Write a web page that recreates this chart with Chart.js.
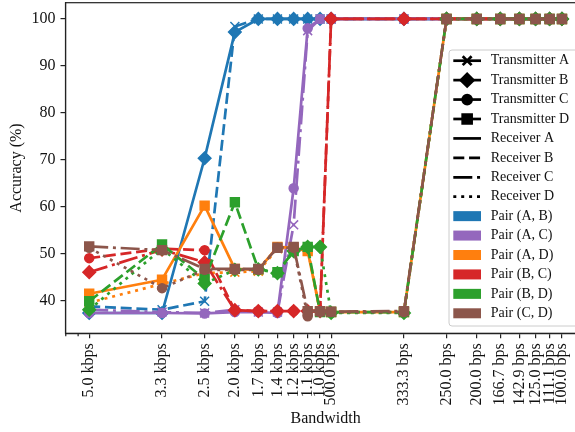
<!DOCTYPE html>
<html>
<head>
<meta charset="utf-8">
<script src="https://cdn.jsdelivr.net/npm/chart.js@4.4.1/dist/chart.umd.min.js"></script>
<style>
  html, body { margin: 0; padding: 0; background: #fff; overflow: hidden; }
  #wrap { width: 575px; height: 432px; overflow: hidden; }
</style>
</head>
<body>
<div id="wrap"><canvas id="myChart" width="590" height="432"></canvas></div>
<script>
// bandwidth labels, placed on a log axis (steps 1..9, 10..90)
var bandwidthLabels = ['5.0 kbps', '3.3 kbps', '2.5 kbps', '2.0 kbps', '1.7 kbps', '1.4 kbps',
    '1.2 kbps', '1.1 kbps', '1.0 kbps', '500.0 bps', '333.3 bps', '250.0 bps', '200.0 bps',
    '166.7 bps', '142.9 bps', '125.0 bps', '111.1 bps', '100.0 bps'];
var xSteps = [1, 2, 3, 4, 5, 6, 7, 8, 9, 10, 20, 30, 40, 50, 60, 70, 80, 90];
var yTicks = [40, 50, 60, 70, 80, 90, 100];

// accuracy (%) - transmitter -> receiver
var txA_rxB = [38.7, 38.0, 39.8, 98.4, 100, 100, 100, 100, 100, 100, 100, 100, 100, 100, 100, 100, 100, 100];
var txB_rxA = [37.3, 37.3, 70.3, 97.2, 100, 100, 100, 100, 100, 100, 100, 100, 100, 100, 100, 100, 100, 100];
var txA_rxC = [38.0, 37.5, 37.3, 38.0, 37.5, 37.5, 56.1, 97.5, 100, 100, 100, 100, 100, 100, 100, 100, 100, 100];
var txC_rxA = [37.3, 37.3, 37.2, 37.5, 37.5, 37.3, 63.9, 98.0, 100, 100, 100, 100, 100, 100, 100, 100, 100, 100];
var txA_rxD = [39.5, 43.5, 45.8, 46.0, 46.2, 51.0, 51.0, 51.0, 37.5, 37.5, 37.5, 100, 100, 100, 100, 100, 100, 100];
var txD_rxA = [41.4, 44.4, 60.2, 46.7, 46.5, 51.4, 51.2, 50.5, 37.7, 37.5, 37.5, 100, 100, 100, 100, 100, 100, 100];
var txB_rxC = [46.0, 50.8, 48.1, 37.9, 37.7, 37.7, 37.7, 37.7, 37.7, 100, 100, 100, 100, 100, 100, 100, 100, 100];
var txC_rxB = [49.0, 51.0, 50.7, 37.9, 37.7, 37.7, 37.7, 37.7, 37.7, 100, 100, 100, 100, 100, 100, 100, 100, 100];
var txB_rxD = [38.0, 51.0, 43.6, 46.5, 46.6, 45.8, 50.5, 51.4, 51.4, 37.3, 37.3, 100, 100, 100, 100, 100, 100, 100];
var txD_rxB = [39.8, 51.9, 44.5, 60.9, 46.6, 46.0, 50.5, 51.4, 37.5, 37.5, 37.5, 100, 100, 100, 100, 100, 100, 100];
var txC_rxD = [51.2, 42.6, 46.5, 46.5, 46.5, 51.2, 51.2, 36.6, 37.5, 37.5, 37.5, 100, 100, 100, 100, 100, 100, 100];
var txD_rxC = [51.5, 50.7, 46.7, 46.7, 46.7, 51.2, 51.4, 37.7, 37.7, 37.6, 37.7, 100, 100, 100, 100, 100, 100, 100];

var colors = {
    AB: '#1f77b4', AC: '#9467bd', AD: '#ff7f0e',
    BC: '#d62728', BD: '#2ca02c', CD: '#8c564b'
};
// marker = transmitter, dash = receiver
var markers = { A: 'crossRot', B: 'rectRot', C: 'circle', D: 'rect' };
var radii = { crossRot: 6.3, rectRot: 6.3, circle: 4.5, rect: 6.3 };
var dashes = { A: [], B: [11, 4.75], C: [19, 4.75, 3, 4.75], D: [3, 4.9] };

Chart.defaults.font.family = "'Liberation Serif', 'Times New Roman', serif";
Chart.defaults.color = '#111';

function series(tx, rx, values, color) {
    var pts = values.map(function(v, i) { return { x: xSteps[i], y: v }; });
    var m = markers[tx];
    return {
        label: 'Tx ' + tx + ' / Rx ' + rx,
        data: pts,
        borderColor: color,
        backgroundColor: color,
        borderWidth: 2.7,
        borderDash: dashes[rx],
        borderJoinStyle: 'round',
        pointStyle: m,
        pointRadius: radii[m],
        pointBorderWidth: 1.5,
        pointBackgroundColor: color,
        pointBorderColor: color,
        tension: 0
    };
}

var datasets = [
    series('A', 'B', txA_rxB, colors.AB),
    series('B', 'A', txB_rxA, colors.AB),
    series('A', 'C', txA_rxC, colors.AC),
    series('C', 'A', txC_rxA, colors.AC),
    series('A', 'D', txA_rxD, colors.AD),
    series('D', 'A', txD_rxA, colors.AD),
    series('B', 'C', txB_rxC, colors.BC),
    series('C', 'B', txC_rxB, colors.BC),
    series('B', 'D', txB_rxD, colors.BD),
    series('D', 'B', txD_rxB, colors.BD),
    series('C', 'D', txC_rxD, colors.CD),
    series('D', 'C', txD_rxC, colors.CD)
];
// later series on top, like matplotlib
datasets.forEach(function(d, i) { d.order = datasets.length - i; });

var legendRows = [
    { text: 'Transmitter A', marker: 'crossRot' },
    { text: 'Transmitter B', marker: 'rectRot' },
    { text: 'Transmitter C', marker: 'circle' },
    { text: 'Transmitter D', marker: 'rect' },
    { text: 'Receiver A', dash: dashes.A },
    { text: 'Receiver B', dash: dashes.B },
    { text: 'Receiver C', dash: dashes.C },
    { text: 'Receiver D', dash: dashes.D },
    { text: 'Pair (A, B)', patch: colors.AB },
    { text: 'Pair (A, C)', patch: colors.AC },
    { text: 'Pair (A, D)', patch: colors.AD },
    { text: 'Pair (B, C)', patch: colors.BC },
    { text: 'Pair (B, D)', patch: colors.BD },
    { text: 'Pair (C, D)', patch: colors.CD }
];

// spines, minor ticks and the legend box
var extras = {
    id: 'extras',
    afterDraw: function(chart) {
        var ctx = chart.ctx, a = chart.chartArea, xs = chart.scales.x;
        ctx.save();
        ctx.strokeStyle = '#222';
        ctx.lineWidth = 1.2;
        ctx.strokeRect(a.left, a.top, a.right - a.left, a.bottom - a.top);
        [0.8, 0.9].forEach(function(v) {
            var px = xs.getPixelForValue(v);
            ctx.beginPath();
            ctx.moveTo(px, a.bottom);
            ctx.lineTo(px, a.bottom + 3);
            ctx.stroke();
        });

        // legend
        var bx = 449, by = 50, bw = 150, bh = 276, r = 3;
        ctx.beginPath();
        ctx.moveTo(bx + r, by);
        ctx.lineTo(bx + bw, by);
        ctx.lineTo(bx + bw, by + bh);
        ctx.lineTo(bx + r, by + bh);
        ctx.arcTo(bx, by + bh, bx, by + bh - r, r);
        ctx.lineTo(bx, by + r);
        ctx.arcTo(bx, by, bx + r, by, r);
        ctx.closePath();
        ctx.fillStyle = 'rgba(255,255,255,0.8)';
        ctx.fill();
        ctx.strokeStyle = '#cccccc';
        ctx.lineWidth = 1;
        ctx.stroke();

        var x0 = 453.3, x1 = 481, tx = 490.7, y0 = 60.7, step = 19.43;
        ctx.font = "14px 'Liberation Serif'";
        ctx.textBaseline = 'middle';
        ctx.textAlign = 'left';
        legendRows.forEach(function(row, i) {
            var y = y0 + i * step;
            if (row.patch) {
                ctx.fillStyle = row.patch;
                ctx.fillRect(x0, y - 5, x1 - x0, 10);
            } else {
                ctx.strokeStyle = '#000';
                ctx.fillStyle = '#000';
                ctx.lineWidth = 2.7;
                ctx.setLineDash(row.dash || []);
                ctx.beginPath();
                ctx.moveTo(x0, y);
                ctx.lineTo(x1, y);
                ctx.stroke();
                ctx.setLineDash([]);
                if (row.marker) {
                    Chart.helpers.drawPoint(ctx, {
                        pointStyle: row.marker, radius: radii[row.marker], borderWidth: 1.5, rotation: 0
                    }, (x0 + x1) / 2, y);
                }
            }
            ctx.fillStyle = '#111';
            ctx.fillText(row.text, tx, y);
        });
        ctx.restore();
    }
};

var ctx = document.getElementById('myChart').getContext('2d');
var myChart = new Chart(ctx, {
    type: 'line',
    data: { datasets: datasets },
    plugins: [extras],
    options: {
        responsive: false,
        animation: false,
        devicePixelRatio: 1,
        layout: { autoPadding: false, padding: { top: 2.7, right: 4.3, left: 0, bottom: 0 } },
        plugins: {
            legend: { display: false },
            tooltip: { enabled: false }
        },
        scales: {
            x: {
                type: 'logarithmic',
                min: 0.798,
                max: 112.8,
                afterBuildTicks: function(scale) {
                    scale.ticks = xSteps.map(function(v) { return { value: v }; });
                },
                afterFit: function(scale) {
                    scale.height = 98.7;
                    scale.paddingLeft = 0;
                    scale.paddingRight = 0;
                },
                ticks: {
                    autoSkip: false,
                    minRotation: 90,
                    maxRotation: 90,
                    padding: 5,
                    font: { size: 16 },
                    callback: function(value, index) { return bandwidthLabels[index]; }
                },
                grid: { display: true, drawOnChartArea: false, drawTicks: true, tickLength: 5, color: '#222', lineWidth: 1.2 },
                border: { display: true, color: '#222', width: 1.2 },
                title: { display: true, text: 'Bandwidth', font: { size: 16 }, padding: { top: 0, bottom: 3.9 } }
            },
            y: {
                type: 'linear',
                min: 32.97,
                max: 103.47,
                afterBuildTicks: function(scale) {
                    scale.ticks = yTicks.map(function(v) { return { value: v }; });
                },
                afterFit: function(scale) {
                    scale.width = 65.5;
                    scale.paddingTop = 0;
                    scale.paddingBottom = 0;
                },
                ticks: { padding: 5, font: { size: 16 } },
                grid: { display: true, drawOnChartArea: false, drawTicks: true, tickLength: 5, color: '#222', lineWidth: 1.2 },
                border: { display: true, color: '#222', width: 1.2 },
                title: { display: true, text: 'Accuracy (%)', font: { size: 16 }, padding: { top: 7.4, bottom: 0 } }
            }
        }
    }
});
</script>
</body>
</html>
